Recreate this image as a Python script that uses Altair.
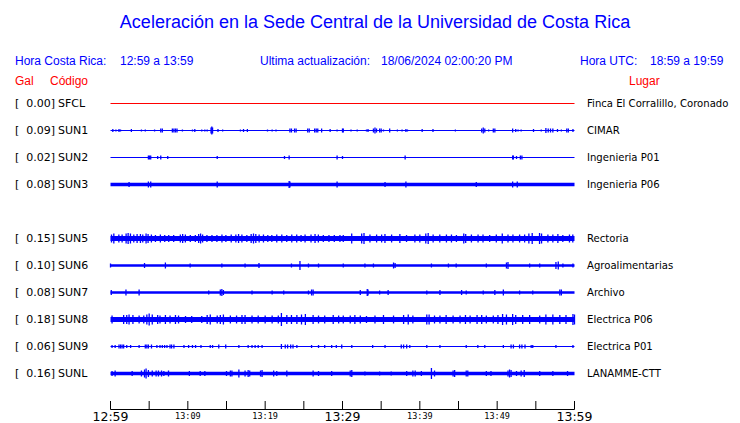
import altair as alt
import pandas as pd

TITLE = "Aceleración en la Sede Central de la Universidad de Costa Rica"
STATIONS = ["SFCL", "SUN1", "SUN2", "SUN3", "SUN5", "SUN6", "SUN7", "SUN8", "SUN9", "SUNL"]
ROWS = [0, 1, 2, 3, 5, 6, 7, 8, 9, 10]
GAL = [0.00, 0.09, 0.02, 0.08, 0.15, 0.10, 0.08, 0.18, 0.06, 0.16]
PLACES = ["Finca El Corralillo, Coronado", "CIMAR", "Ingenieria P01", "Ingenieria P06",
          "Rectoria", "Agroalimentarias", "Archivo", "Electrica P06", "Electrica P01", "LANAMME-CTT"]
COLORS = ["#ff0000"] + ["#0000ff"] * 9
BASE_AMP = [0.5, 0.5, 0.5, 1.7, 2.5, 1.35, 1.35, 2.5, 0.6, 1.8]  # half-thickness of trace
AMP_PER_ROW = 27.0

# spikes: (minutes after 12:59, half amplitude)
SUN1 = [(0.3,1.5),(0.7,1),(1.1,1.5),(1.3,1),(2.7,1.5),(4.0,1),(4.5,1),(5.7,1),(6.5,2),(6.7,2),(8.0,2),(8.2,2),(8.4,2),(8.6,2),
        (9.3,1),(10.6,1),(10.9,1.5),(11.8,1),(12.2,1),(12.5,1),(13.0,3),(13.1,4),(13.2,3),(13.9,1.5),(14.5,1),(16.8,1),(17.2,1.5),
        (17.7,1.5),(20.3,1),(20.9,1),(21.4,1),(23.2,2),(23.4,2),(23.8,2),(24.0,2),(25.5,2),(25.7,2),(26.4,2),(26.6,2),(26.8,2),
        (27.3,2),(28.4,1.5),(29.3,1),(30.0,2),(30.1,2),(31.1,1),(31.9,1),(33.1,1),(33.3,1.5),(34.0,2),(34.2,3),(34.4,2),(34.8,2),
        (35.0,2),(35.3,1),(36.1,2),(37.1,1),(37.7,1),(38.2,1.5),(38.4,1),(40.3,1.5),(41.7,1.5),(44.6,1),(48.0,2),(48.2,3),(48.4,2),
        (48.9,1),(49.5,2),(49.7,2),(52.0,2),(52.4,1.5),(52.7,1),(53.1,1),(54.7,1.5),(55.7,1),(56.3,2.5),(56.6,2),(56.9,2),(57.2,2),
        (57.8,1.5),(58.3,1),(59.0,2),(59.2,2),(59.8,1.5)]
SUN2 = [(4.9,2),(5.05,2),(5.2,2),(6.1,1.5),(6.5,2),(7.4,1.5),(13.8,1.5),(22.5,1.5),(23.1,2),(29.3,2),(30.0,1.5),(38.1,2),
        (52.0,2),(52.1,2),(52.5,1.5),(53.0,2),(53.2,2)]
SUN3 = [(2.4,2.5),(4.9,3),(5.2,3),(13.8,3),(23.1,3.5),(23.2,3),(29.3,3),(35.5,2.5),(38.2,3),(47.3,2.5),(52.0,3),(52.6,3)]
SUN5 = [(0.13,4),(0.43,5),(1.08,4),(1.5,4),(2.02,5),(2.28,5.5),(2.58,5),(3.01,4),(3.44,4.5),(3.87,4.5),(4.17,4),(4.6,5),
        (4.86,4.5),(5.29,4),(5.81,3.5),(6.45,4),(7.01,3.5),(7.53,3.5),(8.17,3.5),(9.03,4),(9.33,4.5),(9.68,4),(10.32,3.5),
        (10.97,3.5),(11.4,4.5),(11.65,5),(11.91,4),(12.47,3.5),(13.12,3.5),(13.76,3.5),(14.41,4),(14.92,3.5),(15.61,4),
        (16.21,4),(16.56,4.5),(16.99,4),(17.63,3.5),(18.19,4.5),(18.49,5),(18.79,4.5),(19.22,4),(19.78,4),(20.34,3.5),
        (20.86,3.5),(21.5,4),(22.15,4),(22.79,3.5),(23.44,4),(24.08,4),(24.64,3.5),(25.16,4),(25.93,4),(26.45,4.5),(26.88,4),
        (27.52,3.5),(28.25,3.5),(28.94,3.5),(29.67,3.5),(30.1,3.5),(31.19,5),(32.48,5),(32.78,5.5),(33.55,4),(34.41,4),
        (35.06,4),(35.49,4.5),(36.35,4),(37.42,4.5),(38.28,3.5),(39.36,4),(40.0,4),(40.77,5),(41.08,5.5),(41.72,4),(42.58,4),
        (43.44,4),(44.09,4),(44.73,3.5),(45.68,5),(45.93,4.5),(46.67,4),(47.53,4),(48.17,4),(49.03,3.5),(49.89,4),(50.66,5),
        (51.4,4),(52.04,4),(52.9,4),(53.55,4),(54.1,5),(54.53,5.5),(55.48,5.5),(55.74,5),(56.56,4),(57.2,4),(57.85,4.5),
        (58.49,3.5),(59.35,4),(59.78,4)]
SUN6 = [(0.0,2),(4.4,2.5),(7.1,3),(10.3,2),(14.4,2),(17.4,2),(19.2,2.5),(23.4,2),(24.5,4.5),(25.6,2),(26.9,2),(30.1,2),
        (32.9,2),(34.0,2),(36.6,3),(36.8,2.5),(41.5,2),(43.7,2),(44.7,2),(48.6,2),(51.2,3),(51.4,3.5),(54.2,2),(55.5,2),
        (57.6,3.5),(57.9,4),(58.5,2),(59.8,2)]
SUN7 = [(0.1,2.5),(2.0,3),(3.7,3),(12.7,2),(14.2,3),(14.4,3.5),(14.6,2.5),(18.3,2),(20.9,2),(22.4,2),(25.6,2),(26.0,3),
        (26.2,3),(32.3,2.5),(33.2,3.5),(33.3,3),(34.8,2),(35.9,2.5),(40.9,2),(42.6,2.5),(45.4,2.5),(46.0,2),(48.2,2),
        (49.7,2.5),(50.8,3),(52.9,2),(54.6,2),(58.1,3),(58.3,3)]
SUN8 = [(0.2,4),(1.7,4.5),(2.1,4.5),(2.4,5),(2.9,4.5),(3.7,4),(4.3,4),(4.7,5),(5.0,6),(5.4,5),(6.1,4.5),(6.4,4),(7.1,4.5),
        (7.7,4),(8.4,4.5),(8.8,4),(9.7,3.5),(10.5,3.5),(11.8,3.5),(12.5,4.5),(12.9,5),(13.8,4),(14.2,4.5),(14.6,5),(15.5,4),
        (16.3,4),(17.0,4.5),(17.4,4.5),(18.3,4),(19.1,4),(20.0,4),(20.9,4),(21.7,4),(22.1,6.5),(22.8,4.5),(23.4,4.5),
        (24.1,4.5),(24.7,5),(25.2,5.5),(26.2,4.5),(26.9,4),(27.7,4),(28.8,4.5),(29.5,4),(30.1,4),(31.0,4),(31.6,4.5),
        (32.3,4),(33.1,3.5),(34.2,4),(35.3,4.5),(36.6,4),(37.9,4.5),(38.5,5),(39.1,4),(40.9,5),(41.2,5),(41.9,4),(42.6,4),
        (43.4,4.5),(44.3,4),(45.2,4),(45.9,4.5),(46.5,4),(47.4,4.5),(48.0,4.5),(48.6,4),(49.5,4),(50.1,4.5),(50.7,5.5),
        (51.2,5),(52.0,5.5),(52.4,4.5),(53.3,4.5),(54.2,4.5),(55.5,4),(56.3,5),(57.2,5),(58.1,4.5),(58.9,4.5),(59.8,5.5),
        (60.0,5)]
SUN9 = [(0.2,1.5),(0.6,1.5),(1.1,2),(1.3,2),(1.5,2),(1.7,2),(2.1,1.5),(2.6,1.5),(3.7,1.5),(4.5,2),(4.7,2),(4.9,2),(5.3,2),
        (6.0,1.5),(6.4,1.5),(6.7,1.5),(7.0,1.5),(7.3,1.5),(7.7,2),(7.9,2),(8.2,2),(9.5,1.5),(10.1,1.5),(10.6,1.5),(11.0,1.5),
        (11.7,1.5),(12.9,1.5),(13.2,1.5),(14.0,2),(14.9,2),(16.6,1.5),(17.8,1.5),(18.3,1.5),(18.7,1.5),(19.1,1.5),(19.6,1.5),
        (22.1,2.5),(22.6,2),(22.9,2),(23.3,2),(23.6,2),(24.1,1.5),(26.0,1.5),(26.9,1.5),(27.7,1.5),(28.6,1.5),(29.2,1.5),
        (29.9,2),(31.2,1.5),(33.9,1.5),(35.5,1.5),(37.6,2),(37.9,2),(38.3,2),(38.7,1.5),(40.9,1.5),(42.6,1.5),(46.0,1.5),
        (47.5,1.5),(48.4,1.5),(50.8,1.5),(51.8,2),(52.1,2),(52.9,2),(53.2,2),(53.6,2),(54.4,1.5),(54.6,1.5),(57.6,1.5),
        (59.8,1.5)]
SUNL = [(0.2,2.5),(0.6,3),(2.8,2.5),(4.0,3),(4.4,4),(4.6,5),(4.9,3.5),(5.4,3),(5.9,3),(6.2,3),(6.6,3),(6.9,2.5),(7.5,3),
        (10.2,2.5),(11.6,2.5),(12.2,2.5),(15.0,2.5),(15.5,3),(15.7,3),(16.6,4),(17.4,3),(17.8,3.5),(18.0,3),(19.4,3),
        (19.6,3.5),(21.1,3),(21.5,2.5),(22.8,3),(26.2,3),(26.9,2.5),(28.6,2.5),(31.0,3),(31.2,3.5),(32.9,2),(34.8,2),
        (36.3,2),(38.3,2.5),(39.1,3),(39.4,3),(40.2,2.5),(41.5,5.5),(41.9,3),(44.3,3),(44.5,3.5),(46.0,3),(46.2,3),
        (48.6,2.5),(49.2,2.5),(51.4,3),(51.6,4),(51.8,3.5),(52.5,2.5),(53.1,3),(53.5,3.5),(55.5,2.5),(57.2,2.5),(59.1,2.5)]
SPIKES = {"SUN1": SUN1, "SUN2": SUN2, "SUN3": SUN3, "SUN5": SUN5, "SUN6": SUN6,
          "SUN7": SUN7, "SUN8": SUN8, "SUN9": SUN9, "SUNL": SUNL}

TICK_MIN = [0, 5, 10, 15, 20, 25, 30, 35, 40, 45, 50, 55, 60]
LABEL_MIN = [0, 10, 20, 30, 40, 50, 60]
LABEL_TXT = ["12:59", "13:09", "13:19", "13:29", "13:39", "13:49", "13:59"]
LABEL_BIG = [True, False, False, True, False, False, True]

BLUE = "#0000ff"
RED = "#ff0000"

OX, OY = 110.5, 90.0   # page position of the plot area's top-left corner
W, H = 464, 319.0
xs = alt.Scale(domain=[0, 60], range=[0, W])
ys = alt.Scale(domain=[-0.5, 11.3148], range=[0, H])

stations = pd.DataFrame({
    "station": STATIONS, "row": ROWS, "gal": GAL, "place": PLACES, "color": COLORS,
    "sw": [max(1.0, 2 * b) for b in BASE_AMP],
    "x0": [0] * len(ROWS), "x1": [60] * len(ROWS),
})
stations["galtxt"] = stations["gal"].map(lambda v: f"{v:.2f}]")

recs = []
for st, row in zip(STATIONS, ROWS):
    for t, a in SPIKES.get(st, []):
        recs.append({"station": st, "t": t, "lo": row - a / AMP_PER_ROW, "hi": row + a / AMP_PER_ROW})
spikes = pd.DataFrame(recs)

base = alt.Chart(stations).mark_rule().encode(
    x=alt.X("x0:Q", scale=xs, axis=None), x2="x1:Q",
    y=alt.Y("row:Q", scale=ys, axis=None),
    color=alt.Color("color:N", scale=None),
    strokeWidth=alt.StrokeWidth("sw:Q", scale=None),
)
spk = alt.Chart(spikes).mark_rule(color=BLUE, strokeWidth=1.3).encode(
    x=alt.X("t:Q", scale=xs, axis=None),
    y=alt.Y("lo:Q", scale=ys, axis=None), y2="hi:Q",
)

FONT = "DejaVu Sans"
row_txt = dict(font=FONT, fontSize=11, color="black", baseline="middle")
bracket = alt.Chart(stations).mark_text(align="left", **row_txt).encode(
    x=alt.value(15 - OX), y=alt.Y("row:Q", scale=ys), text=alt.value("["))
galt = alt.Chart(stations).mark_text(align="right", **row_txt).encode(
    x=alt.value(55 - OX), y=alt.Y("row:Q", scale=ys), text="galtxt:N")
code = alt.Chart(stations).mark_text(align="left", **row_txt).encode(
    x=alt.value(58 - OX), y=alt.Y("row:Q", scale=ys), text="station:N")
place = alt.Chart(stations).mark_text(align="left", font=FONT, fontSize=10.1, color="black",
                                      baseline="middle").encode(
    x=alt.value(587 - OX), y=alt.Y("row:Q", scale=ys), text="place:N")

# time axis
axis_df = pd.DataFrame({"a": [0], "b": [60]})
axis_line = alt.Chart(axis_df).mark_rule(color="black", strokeWidth=1).encode(
    x=alt.X("a:Q", scale=xs), x2="b:Q", y=alt.value(409.5 - OY))
ticks = alt.Chart(pd.DataFrame({"t": TICK_MIN})).mark_rule(color="black", strokeWidth=1).encode(
    x=alt.X("t:Q", scale=xs), y=alt.value(401 - OY), y2=alt.value(409.5 - OY))
lab_df = pd.DataFrame({"t": LABEL_MIN, "txt": LABEL_TXT, "big": LABEL_BIG})
big_lab = alt.Chart(lab_df[lab_df.big]).mark_text(font=FONT, fontSize=12.5, color="black", baseline="middle").encode(
    x=alt.X("t:Q", scale=xs), y=alt.value(416.5 - OY), text="txt:N")
small_lab = alt.Chart(lab_df[~lab_df.big]).mark_text(font="DejaVu Sans Mono", fontSize=8.5, color="black",
                                                    baseline="middle").encode(
    x=alt.X("t:Q", scale=xs), y=alt.value(415.5 - OY), text="txt:N")

# header texts
def label(txt, px, py, color=BLUE, size=12, align="left", font="Liberation Sans"):
    return alt.Chart(pd.DataFrame({"s": [txt]})).mark_text(
        align=align, baseline="middle", font=font, fontSize=size, color=color
    ).encode(x=alt.value(px - OX), y=alt.value(py - OY), text="s:N")

headers = [
    label(TITLE, 375, 22.5, size=18, align="center"),
    label("Hora Costa Rica:", 15, 60.5),
    label("12:59 a 13:59", 120, 60.5),
    label("Ultima actualización:", 260, 60.5),
    label("18/06/2024 02:00:20 PM", 381, 60.5),
    label("Hora UTC:", 580, 60.5),
    label("18:59 a 19:59", 650, 60.5),
    label("Gal", 15, 80.5, color=RED),
    label("Código", 50, 80.5, color=RED),
    label("Lugar", 629, 80.5, color=RED),
]

chart = alt.layer(
    base, spk, bracket, galt, code, place, axis_line, ticks, big_lab, small_lab, *headers
).properties(
    width=W, height=H, autosize="none",
    padding={"left": OX - 8, "top": OY - 8, "right": 732 - OX - W, "bottom": 423 - OY - H},
    background="white",
).configure_view(stroke=None)

chart.save("out.html", embed_options={"renderer": "svg", "actions": False})
